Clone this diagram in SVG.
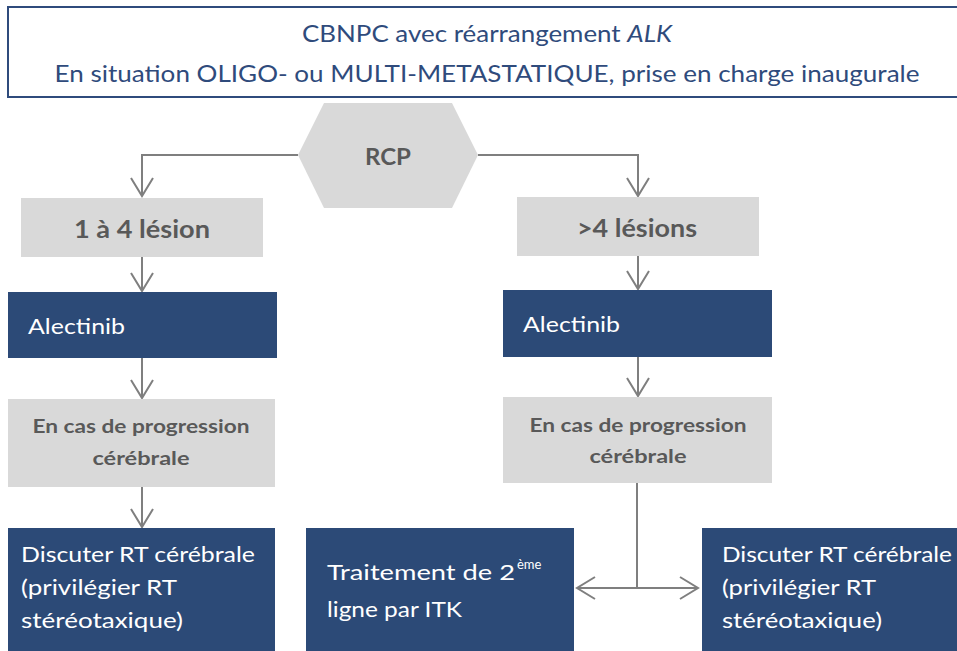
<svg xmlns="http://www.w3.org/2000/svg" width="957" height="651" viewBox="0 0 957 651">
<style>
.title{font-family:Lato,"Liberation Sans",sans-serif;font-size:24px;fill:#2f4b7c}
.gbox{fill:#d9d9d9}
.bbox{fill:#2c4a77}
.gtxt{font-family:Lato,"Liberation Sans",sans-serif;font-weight:bold;fill:#595959}
.wtxt{font-family:Lato,"Liberation Sans",sans-serif;font-size:22px;fill:#ffffff}
.conn{stroke:#7f7f7f;stroke-width:2;fill:none}
</style>
<defs>
<marker id="arr" markerUnits="userSpaceOnUse" markerWidth="24" markerHeight="26" refX="19" refY="12" orient="auto">
<path d="M1,1 L19,12 L1,23" fill="none" stroke="#7f7f7f" stroke-width="2"/>
</marker>
</defs>
<rect width="957" height="651" fill="#ffffff"/>
<g id="title">
<rect x="8" y="7" width="960" height="90" fill="#ffffff" stroke="#2f4b7c" stroke-width="2"/>
<text class="title" x="487" y="42" text-anchor="middle" textLength="370" lengthAdjust="spacingAndGlyphs">CBNPC avec réarrangement <tspan font-style="italic">ALK</tspan></text>
<text class="title" x="487" y="82" text-anchor="middle" textLength="865" lengthAdjust="spacingAndGlyphs">En situation OLIGO- ou MULTI-METASTATIQUE, prise en charge inaugurale</text>
</g>
<g id="connectors">
<path class="conn" d="M298,155 H142 V196" marker-end="url(#arr)"/>
<path class="conn" d="M478,155 H638 V196" marker-end="url(#arr)"/>
<path class="conn" d="M142,257 V291" marker-end="url(#arr)"/>
<path class="conn" d="M638,256 V289" marker-end="url(#arr)"/>
<path class="conn" d="M142,358 V398" marker-end="url(#arr)"/>
<path class="conn" d="M638,357 V396" marker-end="url(#arr)"/>
<path class="conn" d="M142,487 V527" marker-end="url(#arr)"/>
<path class="conn" d="M637,483 V588"/>
<path class="conn" d="M637,588 H577" marker-end="url(#arr)"/>
<path class="conn" d="M637,588 H698" marker-end="url(#arr)"/>
</g>
<g id="rcp">
<polygon points="298,155 324,103 452,103 478,155 452,208 324,208" fill="#d9d9d9"/>
<text class="gtxt" x="388" y="165" font-size="23" text-anchor="middle" textLength="46" lengthAdjust="spacingAndGlyphs">RCP</text>
</g>
<g id="lesion1-4">
<rect class="gbox" x="21" y="198" width="242" height="59"/>
<text class="gtxt" x="142" y="238" font-size="24" text-anchor="middle" textLength="136" lengthAdjust="spacingAndGlyphs">1 à 4 lésion</text>
</g>
<g id="lesion4plus">
<rect class="gbox" x="517" y="197" width="242" height="59"/>
<text class="gtxt" x="637" y="237" font-size="24" text-anchor="middle" textLength="120" lengthAdjust="spacingAndGlyphs">&gt;4 lésions</text>
</g>
<g id="alectinib-left">
<rect class="bbox" x="8" y="292" width="269" height="66"/>
<text class="wtxt" x="28" y="334" textLength="97" lengthAdjust="spacingAndGlyphs">Alectinib</text>
</g>
<g id="alectinib-right">
<rect class="bbox" x="503" y="290" width="269" height="67"/>
<text class="wtxt" x="523" y="332" textLength="97" lengthAdjust="spacingAndGlyphs">Alectinib</text>
</g>
<g id="progression-left">
<rect class="gbox" x="8" y="399" width="267" height="88"/>
<text class="gtxt" font-size="19" text-anchor="middle"><tspan x="141" y="433" textLength="217" lengthAdjust="spacingAndGlyphs">En cas de progression</tspan><tspan x="141" y="465" textLength="97" lengthAdjust="spacingAndGlyphs">cérébrale</tspan></text>
</g>
<g id="progression-right">
<rect class="gbox" x="503" y="397" width="269" height="86"/>
<text class="gtxt" font-size="19" text-anchor="middle"><tspan x="638" y="432" textLength="217" lengthAdjust="spacingAndGlyphs">En cas de progression</tspan><tspan x="638" y="463" textLength="97" lengthAdjust="spacingAndGlyphs">cérébrale</tspan></text>
</g>
<g id="rt-left">
<rect class="bbox" x="8" y="528" width="267" height="130"/>
<text class="wtxt"><tspan x="21" y="562" textLength="234" lengthAdjust="spacingAndGlyphs">Discuter RT cérébrale</tspan><tspan x="21" y="595" textLength="156" lengthAdjust="spacingAndGlyphs">(privilégier RT</tspan><tspan x="21" y="628" textLength="162" lengthAdjust="spacingAndGlyphs">stéréotaxique)</tspan></text>
</g>
<g id="itk">
<rect class="bbox" x="306" y="528" width="268" height="130"/>
<text class="wtxt"><tspan x="327" y="580" textLength="188" lengthAdjust="spacingAndGlyphs">Traitement de 2</tspan><tspan x="517" y="569" font-size="13">ème</tspan><tspan x="327" y="617" textLength="135" lengthAdjust="spacingAndGlyphs">ligne par ITK</tspan></text>
</g>
<g id="rt-right">
<rect class="bbox" x="702" y="528" width="265" height="130"/>
<text class="wtxt"><tspan x="722" y="562" textLength="230" lengthAdjust="spacingAndGlyphs">Discuter RT cérébrale</tspan><tspan x="722" y="595" textLength="154" lengthAdjust="spacingAndGlyphs">(privilégier RT</tspan><tspan x="722" y="628" textLength="160" lengthAdjust="spacingAndGlyphs">stéréotaxique)</tspan></text>
</g>
</svg>
